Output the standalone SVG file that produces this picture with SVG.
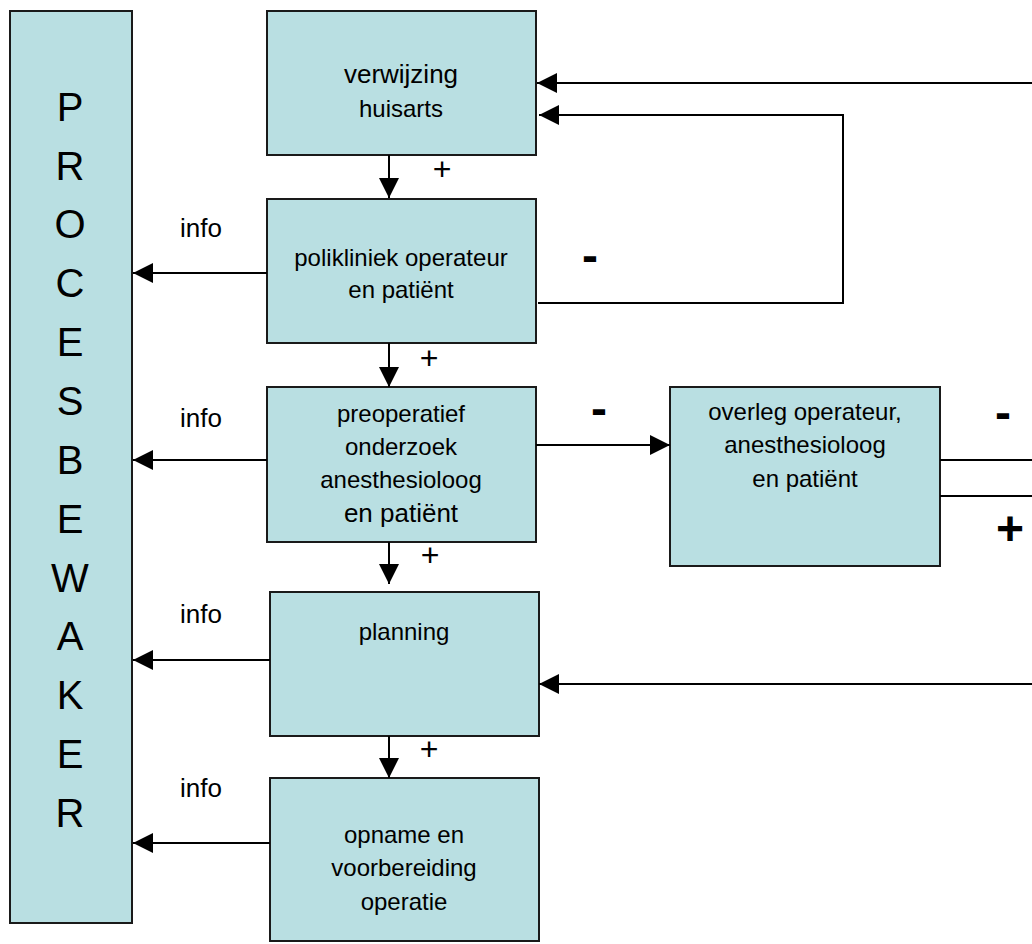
<svg xmlns="http://www.w3.org/2000/svg" width="1032" height="944" viewBox="0 0 1032 944">
<style>
text{font-family:"Liberation Sans",Arial,sans-serif;fill:#000}
.box{fill:#B9DFE2;stroke:#1a1a1a;stroke-width:2}
.t{font-size:24px;text-anchor:middle}
.t26{font-size:26px;text-anchor:middle}
.info{font-size:26px}
.plus{font-size:32px;text-anchor:middle}
.sign{font-size:48px;font-weight:bold;text-anchor:middle}
.big{font-size:40px;text-anchor:middle}
.ln{fill:none;stroke:#000;stroke-width:2}
</style>
<defs>
<marker id="ah" markerUnits="userSpaceOnUse" markerWidth="20" markerHeight="20" refX="20" refY="10" orient="auto">
<path d="M0,0 L20,10 L0,20 z" fill="#000"/>
</marker>
</defs>
<g id="procesbewaker">
<rect class="box" x="10" y="11" width="122" height="912"/>
<text class="big" x="70" y="121">P</text>
<text class="big" x="70" y="180">R</text>
<text class="big" x="70" y="238">O</text>
<text class="big" x="70" y="297">C</text>
<text class="big" x="70" y="356">E</text>
<text class="big" x="70" y="415">S</text>
<text class="big" x="70" y="474">B</text>
<text class="big" x="70" y="533">E</text>
<text class="big" x="70" y="592">W</text>
<text class="big" x="70" y="650">A</text>
<text class="big" x="70" y="709">K</text>
<text class="big" x="70" y="768">E</text>
<text class="big" x="70" y="827">R</text>
</g>
<g id="verwijzing">
<rect class="box" x="267" y="11" width="269" height="144"/>
<text class="t26" x="401" y="83">verwijzing</text>
<text class="t" x="401" y="117">huisarts</text>
</g>
<g id="polikliniek">
<rect class="box" x="267" y="199" width="269" height="144"/>
<text class="t" x="401" y="266">polikliniek operateur</text>
<text class="t" x="401" y="298">en patiënt</text>
</g>
<g id="preoperatief">
<rect class="box" x="267" y="387" width="269" height="155"/>
<text class="t" x="401" y="422">preoperatief</text>
<text class="t" x="401" y="455">onderzoek</text>
<text class="t" x="401" y="488">anesthesioloog</text>
<text class="t26" x="401" y="522">en patiënt</text>
</g>
<g id="overleg">
<rect class="box" x="670" y="387" width="270" height="179"/>
<text class="t" x="805" y="420">overleg operateur,</text>
<text class="t" x="805" y="453">anesthesioloog</text>
<text class="t" x="805" y="487">en patiënt</text>
</g>
<g id="planning">
<rect class="box" x="270" y="592" width="269" height="144"/>
<text class="t" x="404" y="640">planning</text>
</g>
<g id="opname">
<rect class="box" x="270" y="778" width="269" height="163"/>
<text class="t" x="404" y="843">opname en</text>
<text class="t" x="404" y="876">voorbereiding</text>
<text class="t" x="404" y="910">operatie</text>
</g>
<g id="connectors">
<path class="ln" d="M389,155 L389,198" marker-end="url(#ah)"/>
<path class="ln" d="M389,343 L389,387" marker-end="url(#ah)"/>
<path class="ln" d="M389,542 L389,584" marker-end="url(#ah)"/>
<path class="ln" d="M389,736 L389,778" marker-end="url(#ah)"/>
<path class="ln" d="M267,273 L133,273" marker-end="url(#ah)"/>
<path class="ln" d="M267,460 L133,460" marker-end="url(#ah)"/>
<path class="ln" d="M270,660 L133,660" marker-end="url(#ah)"/>
<path class="ln" d="M270,843 L133,843" marker-end="url(#ah)"/>
<path class="ln" d="M536,445 L670,445" marker-end="url(#ah)"/>
<path class="ln" d="M1032,83 L537,83" marker-end="url(#ah)"/>
<path class="ln" d="M538,303 L843,303 L843,115 L539,115" marker-end="url(#ah)"/>
<path class="ln" d="M1032,684 L539,684" marker-end="url(#ah)"/>
<path class="ln" d="M940,460 L1032,460"/>
<path class="ln" d="M940,496 L1032,496"/>
</g>
<g id="labels">
<text class="info" x="180" y="237">info</text>
<text class="info" x="180" y="427">info</text>
<text class="info" x="180" y="623">info</text>
<text class="info" x="180" y="797">info</text>
<text class="plus" x="442" y="180">+</text>
<text class="plus" x="429" y="369">+</text>
<text class="plus" x="430" y="566">+</text>
<text class="plus" x="429" y="760">+</text>
<text class="sign" x="590" y="272">-</text>
<text class="sign" x="599" y="425">-</text>
<text class="sign" x="1003" y="429">-</text>
<text class="sign" x="1010" y="545">+</text>
</g>
</svg>
